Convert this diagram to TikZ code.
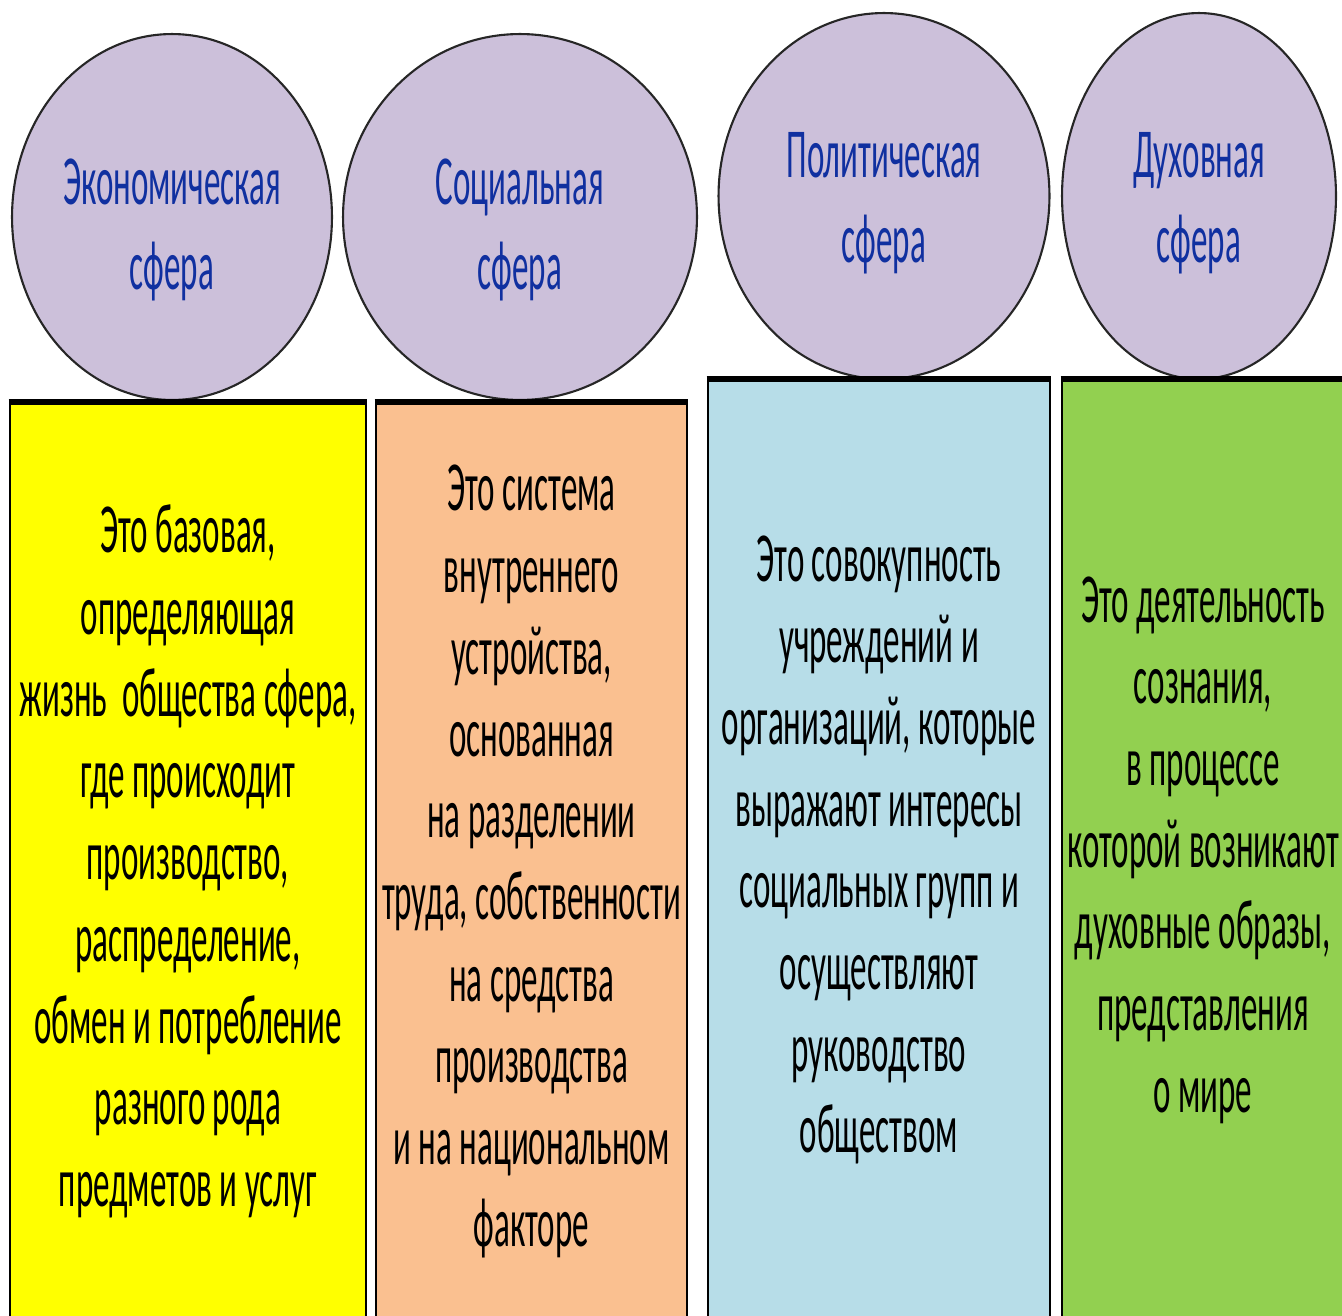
\documentclass[tikz,border=0pt]{standalone}
\usepackage{fontspec}
\setmainfont[FakeStretch=0.47]{Carlito}
\usetikzlibrary{shapes.geometric}
\definecolor{sferafill}{HTML}{CCC0DA}
\definecolor{sferatext}{HTML}{1030A0}
\definecolor{econfill}{HTML}{FFFF00}
\definecolor{socfill}{HTML}{FAC090}
\definecolor{politfill}{HTML}{B7DDE8}
\definecolor{duhfill}{HTML}{92D050}

\begin{document}
\begin{tikzpicture}[x=0.02cm,y=-0.02cm]
% Стили
\tikzset{
  sfera/.style={ellipse, draw=black!85, line width=1.2pt, fill=sferafill, inner sep=0pt, minimum height=7.32cm, text=sferatext, align=center, font=\fontsize{40}{48}\selectfont},
  opis/.style={rectangle, draw=black, line width=1.6pt, inner sep=0pt, align=center, font=\fontsize{40}{46.5}\selectfont}
}
\useasboundingbox (0,0) rectangle (1342,1315);
\clip (0,0) rectangle (1342,1315);

% Сферы
\node[sfera, minimum width=6.4cm] (econ_sfera) at (172,217) {\raisebox{-0.26cm}[\height][\depth]{\begin{tabular}{@{}c@{}}Экономическая\\сфера\end{tabular}}};
\node[sfera, minimum width=7.08cm] (soc_sfera) at (520,217) {\raisebox{-0.26cm}[\height][\depth]{\begin{tabular}{@{}c@{}}Социальная\\сфера\end{tabular}}};
\node[sfera, minimum width=6.62cm] (polit_sfera) at (884,196) {\raisebox{-0.14cm}[\height][\depth]{\begin{tabular}{@{}c@{}}Политическая\\сфера\end{tabular}}};
\node[sfera, minimum width=5.48cm] (duh_sfera) at (1199,196) {\raisebox{-0.14cm}[\height][\depth]{\begin{tabular}{@{}c@{}}Духовная\\сфера\end{tabular}}};

% Экономическая
\node[opis, fill=econfill, minimum width=7.12cm, minimum height=18.34cm] (econ_opis) at (188,861.5) {Это базовая,\\
определяющая\\
жизнь \ общества сфера,\\
где происходит\\
производство,\\
распределение,\\
обмен и потребление\\
разного рода\\
предметов и услуг};

% Социальная
\node[opis, fill=socfill, minimum width=6.22cm, minimum height=18.34cm] (soc_opis) at (531.5,861.5) {Это система\\
внутреннего\\
устройства,\\
основанная\\
на разделении\\
труда, собственности\\
на средства\\
производства\\
и на национальном\\
факторе};

% Политическая
\node[opis, fill=politfill, minimum width=6.84cm, minimum height=18.8cm] (polit_opis) at (879,850) {Это совокупность\\
учреждений и\\
организаций, которые\\
выражают интересы\\
социальных групп и\\
осуществляют\\
руководство\\
обществом};

% Духовная
\node[opis, fill=duhfill, minimum width=5.64cm, minimum height=18.8cm] (duh_opis) at (1203,850) {Это деятельность\\
сознания,\\
в процессе\\
которой возникают\\
духовные образы,\\
представления\\
о мире};

\foreach \b in {econ_opis, soc_opis, polit_opis, duh_opis}
  \draw[line width=2.6pt] (\b.north west) -- (\b.north east);

\end{tikzpicture}
\end{document}
